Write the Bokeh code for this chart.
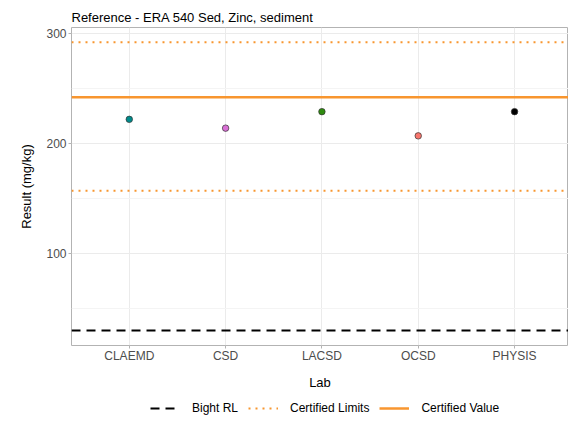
from bokeh.plotting import figure
from bokeh.layouts import column
from bokeh.models import Range1d, FixedTicker, Legend, LegendItem
from bokeh.embed import file_html
from bokeh.resources import INLINE

# ---- data ----
labs = ["CLAEMD", "CSD", "LACSD", "OCSD", "PHYSIS"]
results = [222, 214, 229, 207, 229]
point_colors = ["#008B8B", "#DA70D6", "#2E8B0E", "#F8766D", "#000000"]
certified_value = [242]
certified_limits = [157, 292]
bight_rl = [30]
y_ticks = [100, 200, 300]
y_minor_ticks = [50, 150, 250]
legend_labels = ["Bight RL", "Certified Limits", "Certified Value"]

FONT = "Liberation Sans"
ORANGE = "#F8962F"
STYLES = [dict(line_color="black", line_dash="9 6", line_width=2),
          dict(line_color=ORANGE, line_dash="2 5", line_width=2),
          dict(line_color=ORANGE, line_dash="solid", line_width=2.5)]
SERIES = [bight_rl, certified_limits, certified_value]

xpos = list(range(len(labs)))
x_lo, x_hi = -0.6, 4.56
y_lo, y_hi = 16.4, 305.5

p = figure(width=568, height=392,
           x_range=Range1d(x_lo, x_hi), y_range=Range1d(y_lo, y_hi),
           output_backend="svg", toolbar_location=None,
           title="Reference - ERA 540 Sed, Zinc, sediment",
           min_border_left=71, min_border_right=0, min_border_top=27, min_border_bottom=0)

p.title.text_font = FONT
p.title.text_font_size = "13px"
p.title.text_font_style = "normal"
p.title.text_color = "#000000"
p.title.align = "left"
p.title.standoff = 6

p.background_fill_color = "white"
p.border_fill_color = "white"
p.outline_line_color = "#b3b3b3"
p.outline_line_width = 1

# grids
p.xgrid.ticker = FixedTicker(ticks=xpos)
p.xgrid.grid_line_color = "#ebebeb"
p.ygrid.ticker = FixedTicker(ticks=y_ticks, minor_ticks=y_minor_ticks)
p.ygrid.grid_line_color = "#ebebeb"
p.ygrid.minor_grid_line_color = "#f4f4f4"

# axes
p.xaxis.ticker = FixedTicker(ticks=xpos)
p.xaxis.major_label_overrides = {i: lab for i, lab in zip(xpos, labs)}
p.yaxis.ticker = FixedTicker(ticks=y_ticks)
for ax in (p.xaxis[0], p.yaxis[0]):
    ax.axis_line_color = None
    ax.major_tick_line_color = "#b3b3b3"
    ax.major_tick_out = 3
    ax.major_tick_in = 0
    ax.minor_tick_line_color = None
    ax.major_label_text_font = FONT
    ax.major_label_text_font_size = "12px"
    ax.major_label_text_color = "#4d4d4d"
    ax.axis_label_text_font = FONT
    ax.axis_label_text_font_size = "13px"
    ax.axis_label_text_font_style = "normal"
    ax.axis_label_text_color = "#000000"

p.xaxis.axis_label = "Lab"
p.xaxis.major_label_standoff = 0
p.xaxis.axis_label_standoff = 9
p.yaxis.axis_label = "Result (mg/kg)"
p.yaxis.major_label_standoff = 2
p.yaxis.axis_label_standoff = 9

# reference lines spanning the x range
for vals, st in zip(SERIES, STYLES):
    p.multi_line(xs=[[x_lo, x_hi] for _ in vals], ys=[[v, v] for v in vals], **st)

# points
p.scatter(x=xpos, y=results, size=6.5, fill_color=point_colors,
          line_color="#333333", line_width=0.7)

# legend strip below the plot (its own copies of the lines lie outside its view)
lg = figure(width=568, height=30, x_range=Range1d(x_lo, x_hi), y_range=Range1d(-2, -1),
            output_backend="svg", toolbar_location=None,
            x_axis_location=None, y_axis_location=None,
            min_border_left=71, min_border_right=0, min_border_top=0, min_border_bottom=0)
lg.grid.visible = False
lg.outline_line_color = None
lg.background_fill_color = "white"
lg.border_fill_color = "white"
proxies = [lg.multi_line(xs=[[x_lo, x_hi] for _ in vals], ys=[[v, v] for v in vals], **st)
           for vals, st in zip(SERIES, STYLES)]

legend = Legend(items=[LegendItem(label=lab, renderers=[r], index=0)
                       for lab, r in zip(legend_labels, proxies)],
                orientation="horizontal", location=(79, 4))
legend.glyph_width = 30
legend.glyph_height = 20
legend.label_standoff = 12
legend.spacing = 10
legend.padding = 3
legend.margin = 0
legend.border_line_color = None
legend.background_fill_alpha = 0
legend.label_text_font = FONT
legend.label_text_font_size = "12px"
legend.label_text_color = "#000000"
lg.add_layout(legend, "center")

layout = column(p, lg, spacing=0)
open("out.html", "w").write(file_html(layout, INLINE))
